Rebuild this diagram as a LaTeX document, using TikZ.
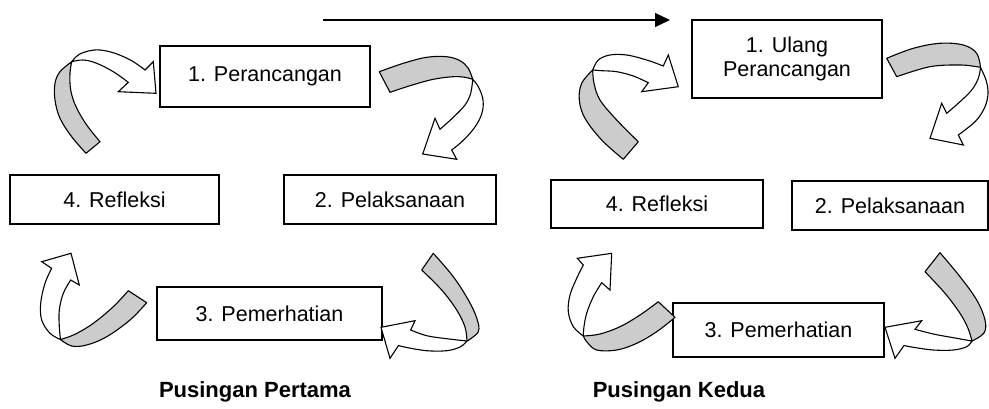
\documentclass[tikz,border=0pt]{standalone}
\usepackage{fontspec}
\setmainfont{Liberation Sans}
\usetikzlibrary{arrows.meta}
\definecolor{ribbon}{gray}{0.8}
\begin{document}
\begin{tikzpicture}[x=1pt,y=-1pt,
  box/.style={draw,line width=1.3pt,inner sep=0pt,align=center,font=\fontsize{21.5}{24.5}\selectfont},
  captext/.style={anchor=base,inner sep=0pt,font=\fontsize{22}{26}\selectfont\bfseries},
  greyband/.style={fill=ribbon,draw=black,line width=1.1pt,line join=round},
  whiteband/.style={fill=white,draw=black,line width=1.1pt,line join=miter},
  sm/.style={smooth,tension=0.6}]
\useasboundingbox (0,0) rectangle (989,408);

% ---------- left cycle boxes ----------
\node[box,minimum width=210pt,minimum height=61pt] (p1) at (265,76.5) {1. Perancangan};
\node[box,minimum width=209pt,minimum height=49pt] (p4) at (114.5,199.5) {4. Refleksi};
\node[box,minimum width=212pt,minimum height=49pt] (p2) at (390,199.5) {2. Pelaksanaan};
\node[box,minimum width=225pt,minimum height=53pt] (p3) at (269.5,313.5) {3. Pemerhatian};
% ---------- right cycle boxes ----------
\node[box,minimum width=190pt,minimum height=78pt] (q1) at (787,59) {1. Ulang\\Perancangan};
\node[box,minimum width=212pt,minimum height=48pt] (q4) at (657,204) {4. Refleksi};
\node[box,minimum width=196pt,minimum height=49pt] (q2) at (890,205.5) {2. Pelaksanaan};
\node[box,minimum width=211pt,minimum height=54pt] (q3) at (778.5,330) {3. Pemerhatian};

% ---------- captions ----------
\node[captext] (c1) at (255,397) {Pusingan Pertama};
\node[captext] (c2) at (679,397) {Pusingan Kedua};

% ---------- top arrow ----------
\coordinate (ls) at (323,20);
\coordinate (le) at (670,20);
\draw[line width=1.3pt,-{Triangle[length=15pt,width=14pt]}] (ls) -- (le);

% ---------- A ----------
\filldraw[greyband] plot[sm] coordinates {(86,153.3) (71.7,136.7) (60,118.3) (55,100) (55,83.3) (60,71.7) (71.7,61.7)}
  -- plot[sm] coordinates {(71.7,61.7) (70,73.3) (70.7,90) (76,106.7) (86.7,125) (100,141.7)} -- cycle;
\filldraw[whiteband] plot[sm] coordinates {(71.7,61.7) (78.3,55) (88.3,51) (100,50) (115,53.3) (131.7,60.7) (145,70)}
  -- (153.3,61.7) -- (156,93.3) -- (118.3,91.7) -- (128.3,82.3)
  -- plot[sm] coordinates {(128.3,82.3) (113.3,71.7) (96.7,63.3) (83.3,60) (71.7,61.7)} -- cycle;
% ---------- B ----------
\filldraw[greyband] plot[sm] coordinates {(379.3,71.7) (403.3,63.3) (426.7,57.3) (446.7,56.7) (460,60.7) (468.3,68.3) (472.7,79.3)}
  -- plot[sm] coordinates {(472.7,79.3) (465,77.3) (453.3,76.7) (433.3,79.3) (410,85.7) (390,92.3)} -- cycle;
\filldraw[whiteband] plot[sm] coordinates {(472.7,79.3) (478.3,86.7) (482.7,98.3) (482.7,110) (478.3,121.7) (470,133.3) (460,143.3) (451.7,150)}
  -- (456.7,159.3) -- (422.7,154) -- (435,118.3) -- (440,129.3)
  -- plot[sm] coordinates {(440,129.3) (453.3,117.3) (465,105) (470.7,93.3) (472.7,79.3)} -- cycle;
% ---------- C ----------
\filldraw[greyband] plot[sm] coordinates {(433.3,253.3) (453.3,276.7) (468.3,300) (476.7,318) (478.3,331.7) (467,341)}
  -- plot[sm] coordinates {(467,341) (465,327) (456.7,310) (441.7,290) (421.7,270)} -- cycle;
\filldraw[whiteband] plot[sm] coordinates {(467,341) (460,347) (446.7,350.7) (426.7,350.7) (406.7,347.5) (398.5,345.5)}
  -- (390,358.3) -- (381,327.3) -- (415,320.7) -- (410.7,330)
  -- plot[sm] coordinates {(410.7,330) (426.7,335.7) (446.7,338.7) (467,341)} -- cycle;
% ---------- D ----------
\filldraw[greyband] plot[sm] coordinates {(146.7,302.7) (130,320) (106.7,336.7) (86.7,345) (71.7,346) (60.5,339.5)}
  -- plot[sm] coordinates {(60.5,339.5) (75,334.3) (93.3,323.3) (113.3,306.7) (128.3,290.7)} -- cycle;
\filldraw[whiteband] plot[sm] coordinates {(60.5,339.5) (50,333.3) (41.7,320) (40.7,303.3) (45,283.3) (51.7,268.3)}
  -- (41.7,261.7) -- (71,253.3) -- (79.3,285) -- (70.7,280)
  -- plot[sm] coordinates {(70.7,280) (63.3,293.3) (59.3,310) (59.3,326.7) (60.5,339.5)} -- cycle;

% ---------- E ----------
\filldraw[greyband] plot[sm] coordinates {(623.3,159.3) (601.7,140) (585,118.3) (579.3,100) (581.7,83.3) (592.7,70)}
  -- plot[sm] coordinates {(592.7,70) (594,83.3) (600,100) (616.7,120) (638.3,141.7)} -- cycle;
\filldraw[whiteband] plot[sm] coordinates {(592.7,70) (598.3,60) (610,55) (626.7,55) (646.7,60) (663.3,66)}
  -- (668.3,55) -- (678.3,86.7) -- (641.7,91.7) -- (648.3,82.7)
  -- plot[sm] coordinates {(648.3,82.7) (633.3,76) (616.7,71.7) (601.7,70.7) (592.7,70)} -- cycle;
% ---------- F ----------
\filldraw[greyband] plot[sm] coordinates {(886.7,58.3) (913.3,48.3) (940,43.3) (963.3,45) (976.7,53.3) (980.5,67.5)}
  -- plot[sm] coordinates {(980.5,67.5) (976.7,66.7) (960,65) (930,66.7) (896.7,76.7)} -- cycle;
\filldraw[whiteband] plot[sm] coordinates {(980.5,67.5) (986,80) (988,93.3) (985,106.7) (976.7,120) (965,130) (958.3,135)}
  -- (963.3,145) -- (930,138.3) -- (941.7,103.3) -- (946.7,113.3)
  -- plot[sm] coordinates {(946.7,113.3) (960,101.7) (971.7,90) (978.3,78.3) (980.5,67.5)} -- cycle;
% ---------- G ----------
\filldraw[greyband] plot[sm] coordinates {(675,317.3) (656.7,331.7) (636.7,343.3) (616.7,350) (596.7,350) (587,342) (583.3,336)}
  -- plot[sm] coordinates {(583.3,336) (600,334) (620,326.7) (640,315) (658.3,301.7)} -- cycle;
\filldraw[whiteband] plot[sm] coordinates {(583.3,336) (573.3,326.7) (568.3,311.7) (570,295) (576.7,278.3) (583.3,265)}
  -- (577.3,258.3) -- (611.7,253.3) -- (610,290) -- (601.7,282.7)
  -- plot[sm] coordinates {(601.7,282.7) (593.3,296.7) (586.7,313.3) (584,326.7) (583.3,336)} -- cycle;
% ---------- H ----------
\filldraw[greyband] plot[sm] coordinates {(940,252.7) (960,276.7) (976.7,300) (985,320) (984,333) (972,341)}
  -- plot[sm] coordinates {(972,341) (968,328.3) (960,313.3) (945,293.3) (925,271.7)} -- cycle;
\filldraw[whiteband] plot[sm] coordinates {(972,341) (966.7,346.7) (953.3,350) (933.3,350) (913.3,347.3) (904,345.5)}
  -- (895,358.3) -- (885,327.3) -- (921.7,320.7) -- (915,329.3)
  -- plot[sm] coordinates {(915,329.3) (933.3,334) (953.3,337.7) (972,341)} -- cycle;
\end{tikzpicture}
\end{document}
